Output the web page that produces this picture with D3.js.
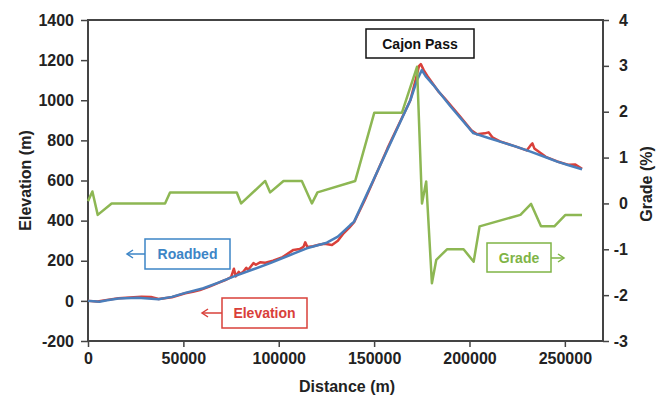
<!DOCTYPE html>
<html>
<head>
<meta charset="utf-8">
<script src="https://cdn.jsdelivr.net/npm/d3@7"></script>
<style>
  body { margin: 0; background: #fff; }
  svg text { font-family: "Liberation Sans", Arial, sans-serif; }
</style>
</head>
<body>
<div id="chart"></div>
<script>
// Roadbed (blue) - distance in m, elevation in m
const roadbedDist = [0, 3000, 6000, 10000, 16000, 26000, 37000, 44000, 51000, 60500, 68000, 76200, 86000, 95500, 105000, 114700, 125200, 131000, 137500, 139500, 150000, 160000, 169000, 172500, 175000, 177000, 181000, 190000, 202000, 210000, 216000, 224000, 232000, 240000, 246000, 252000, 259000];
const roadbedElev = [0, -2, -4, 3, 12, 15, 8, 20, 40, 63, 90, 121, 155, 188, 225, 262, 290, 320, 378, 395, 610, 816, 1000, 1100, 1150, 1120, 1077, 970, 836, 812, 794, 770, 744, 716, 694, 676, 656];

// Ground elevation (red)
const elevDist = [0, 5000, 10000, 16000, 22000, 28000, 33000, 37000, 44000, 51000, 55000, 58700, 64000, 68000, 72000, 75000, 76500, 77500, 79000, 80000, 81500, 83000, 84000, 86700, 88000, 90200, 93000, 97000, 102000, 107700, 111000, 113000, 113900, 115000, 118000, 121000, 124000, 127900, 131000, 134000, 137000, 139500, 145000, 150000, 157000, 163000, 169000, 172000, 173500, 174500, 176000, 178000, 181000, 184000, 187000, 195000, 201000, 204000, 208000, 210000, 212000, 216000, 224000, 230000, 232000, 233000, 234000, 240000, 246000, 252000, 255500, 259000];
const elevVals = [0, -3, 5, 13, 17, 21, 19, 9, 18, 38, 45, 54, 72, 88, 104, 118, 160, 122, 145, 135, 146, 165, 155, 188, 180, 192, 190, 200, 218, 254, 258, 270, 292, 268, 272, 280, 285, 279, 300, 337, 365, 392, 500, 608, 760, 880, 1000, 1110, 1170, 1180, 1150, 1120, 1080, 1040, 1010, 920, 850, 830, 835, 840, 815, 795, 770, 750, 775, 785, 760, 718, 695, 678, 680, 658];

// Grade (green) in %
const gradeDist = [0, 2300, 5100, 12400, 40400, 43000, 78000, 80300, 92900, 95500, 102500, 112100, 117400, 120300, 140100, 150100, 164600, 172500, 175100, 177300, 180300, 182600, 188200, 196900, 202200, 205300, 226700, 232300, 237500, 244500, 250300, 259000];
const gradeVals = [0.05, 0.26, -0.25, 0, 0, 0.24, 0.24, 0, 0.49, 0.24, 0.49, 0.49, 0, 0.24, 0.49, 1.98, 1.98, 2.98, 0, 0.48, -1.74, -1.23, -1, -1, -1.27, -0.5, -0.25, -0.01, -0.5, -0.5, -0.25, -0.25];

const xTicks = [0, 50000, 100000, 150000, 200000, 250000];
const yLeftTicks = [-200, 0, 200, 400, 600, 800, 1000, 1200, 1400];
const yRightTicks = [-3, -2, -1, 0, 1, 2, 3, 4];

const width = 666, height = 397;
const margin = { top: 20, right: 63, bottom: 56, left: 88 };

const svg = d3.select("#chart").append("svg")
  .attr("width", width)
  .attr("height", height);

const x = d3.scaleLinear().domain([0, 270000]).range([margin.left, width - margin.right]);
const yL = d3.scaleLinear().domain([-200, 1400]).range([height - margin.bottom, margin.top]);
const yR = d3.scaleLinear().domain([-3, 4]).range([height - margin.bottom, margin.top]);

const axisColor = "#444";

// axes
const gx = svg.append("g")
  .attr("transform", `translate(0,${height - margin.bottom})`)
  .call(d3.axisBottom(x).tickValues(xTicks).tickFormat(d3.format("d")).tickSize(6).tickSizeOuter(0).tickPadding(6));
const gl = svg.append("g")
  .attr("transform", `translate(${margin.left},0)`)
  .call(d3.axisLeft(yL).tickValues(yLeftTicks).tickFormat(d => d < 0 ? "-" + Math.abs(d) : d).tickSize(7).tickSizeOuter(0).tickPadding(7));
const gr = svg.append("g")
  .attr("transform", `translate(${width - margin.right},0)`)
  .call(d3.axisRight(yR).tickValues(yRightTicks).tickFormat(d => d < 0 ? "-" + Math.abs(d) : d).tickSize(6).tickSizeOuter(0));

[gx, gl, gr].forEach(g => {
  g.select(".domain").remove();
  g.selectAll(".tick line").attr("stroke", axisColor).attr("stroke-width", 1.5);
  g.selectAll(".tick text")
    .attr("font-size", 16)
    .attr("font-weight", "bold")
    .attr("fill", "#222");
});
gr.selectAll(".tick text").attr("text-anchor", "end").attr("x", 25);

// frame
svg.append("rect")
  .attr("x", margin.left).attr("y", margin.top)
  .attr("width", width - margin.left - margin.right)
  .attr("height", height - margin.top - margin.bottom)
  .attr("fill", "none")
  .attr("stroke", axisColor)
  .attr("stroke-width", 2);

// lines
const lineL = (xs, ys) => d3.line().x((d, i) => x(xs[i])).y((d, i) => yL(ys[i]))(ys);
const lineR = (xs, ys) => d3.line().x((d, i) => x(xs[i])).y((d, i) => yR(ys[i]))(ys);

svg.append("path")
  .attr("d", lineL(elevDist, elevVals))
  .attr("fill", "none").attr("stroke", "#d9403a").attr("stroke-width", 2.5)
  .attr("stroke-linejoin", "round");
svg.append("path")
  .attr("d", lineL(roadbedDist, roadbedElev))
  .attr("fill", "none").attr("stroke", "#4a7ebb").attr("stroke-width", 2.5)
  .attr("stroke-linejoin", "round");
svg.append("path")
  .attr("d", lineR(gradeDist, gradeVals))
  .attr("fill", "none").attr("stroke", "#8db753").attr("stroke-width", 2.5)
  .attr("stroke-linejoin", "round");

// axis titles
svg.append("text")
  .attr("transform", `translate(31,${(margin.top + height - margin.bottom) / 2}) rotate(-90)`)
  .attr("text-anchor", "middle")
  .attr("font-size", 16).attr("font-weight", "bold").attr("fill", "#222")
  .text("Elevation (m)");
svg.append("text")
  .attr("transform", `translate(652,184) rotate(-90)`)
  .attr("text-anchor", "middle")
  .attr("font-size", 16).attr("font-weight", "bold").attr("fill", "#222")
  .text("Grade (%)");
svg.append("text")
  .attr("x", 347).attr("y", 392)
  .attr("text-anchor", "middle")
  .attr("font-size", 16).attr("font-weight", "bold").attr("fill", "#222")
  .text("Distance (m)");

// callout boxes
function callout(bx, by, bw, bh, label, color, arrow) {
  svg.append("rect")
    .attr("x", bx).attr("y", by).attr("width", bw).attr("height", bh)
    .attr("fill", "#fff").attr("stroke", color).attr("stroke-width", 1.5);
  svg.append("text")
    .attr("x", bx + bw / 2).attr("y", by + bh / 2 + 5)
    .attr("text-anchor", "middle")
    .attr("font-family", "Lato, sans-serif")
    .attr("font-size", 14).attr("font-weight", "bold")
    .attr("fill", color)
    .text(label);
  if (arrow) {
    const [x1, x2, ay] = arrow;
    const dir = Math.sign(x2 - x1);
    svg.append("line")
      .attr("x1", x1).attr("x2", x2).attr("y1", ay).attr("y2", ay)
      .attr("stroke", color).attr("stroke-width", 1.5);
    svg.append("polyline")
      .attr("points", `${x2 - dir * 6},${ay - 4} ${x2},${ay} ${x2 - dir * 6},${ay + 4}`)
      .attr("fill", "none").attr("stroke", color).attr("stroke-width", 1.5);
  }
}

callout(366, 29, 108, 29, "Cajon Pass", "#111", null);
callout(145, 239, 85, 30, "Roadbed", "#3d85c6", [145, 127, 254]);
callout(222, 298, 85, 30, "Elevation", "#d9403a", [222, 202, 313]);
callout(487, 243, 64, 29, "Grade", "#7fb446", [551, 564, 258]);
</script>
</body>
</html>
